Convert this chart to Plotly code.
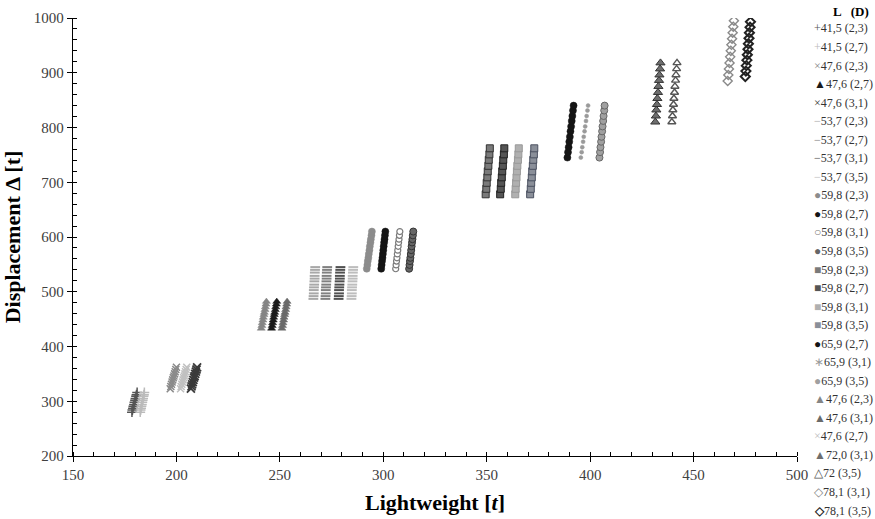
import plotly.graph_objects as go

# Displacement values [t] per hull-length group
disp_415 = [280, 284, 287, 291, 294, 298, 302, 305, 309, 312, 316]
disp_476x = [323, 327, 331, 335, 339, 343, 346, 350, 354, 358, 362]
disp_476t = [433, 438, 443, 448, 453, 458, 462, 467, 472, 477, 482]
disp_537 = [487, 492, 497, 503, 508, 513, 519, 524, 529, 535, 540, 545]
disp_598c = [542, 549, 556, 562, 569, 576, 583, 590, 596, 603, 610]
disp_598s = [678, 688, 699, 709, 720, 730, 741, 751, 762]
disp_659 = [745, 755, 764, 774, 783, 793, 802, 812, 821, 831, 840]
disp_720 = [810, 821, 832, 842, 853, 864, 875, 886, 896, 907, 918]
disp_781_31 = [885, 896, 907, 918, 929, 940, 951, 962, 973, 984, 995]
disp_781_35 = [893, 903, 913, 923, 933, 943, 953, 963, 973, 983, 993]

# Lightweight values [t] per series
lw_415_23 = [178.5, 178.7, 179.0, 179.2, 179.5, 179.7, 180.0, 180.2, 180.5, 180.7, 181.0]
lw_415_27 = [182.5, 182.7, 182.9, 183.1, 183.3, 183.5, 183.7, 183.9, 184.1, 184.3, 184.5]
lw_476x_23 = [197.0, 197.3, 197.6, 197.9, 198.2, 198.5, 198.8, 199.1, 199.4, 199.7, 200.0]
lw_476x_27 = [202.0, 202.3, 202.6, 202.9, 203.2, 203.5, 203.8, 204.1, 204.4, 204.7, 205.0]
lw_476x_31 = [207.0, 207.3, 207.6, 207.9, 208.2, 208.5, 208.8, 209.1, 209.4, 209.7, 210.0]
lw_476t_23 = [241.0, 241.3, 241.5, 241.8, 242.0, 242.3, 242.5, 242.8, 243.0, 243.3, 243.5]
lw_476t_27 = [246.0, 246.3, 246.5, 246.8, 247.0, 247.3, 247.5, 247.8, 248.0, 248.3, 248.5]
lw_476t_31 = [251.0, 251.3, 251.5, 251.8, 252.0, 252.3, 252.5, 252.8, 253.0, 253.3, 253.5]
lw_537_23 = [266.2, 266.3, 266.4, 266.4, 266.5, 266.6, 266.7, 266.8, 266.8, 266.9, 267.0, 267.1]
lw_537_27 = [272.0, 272.1, 272.2, 272.2, 272.3, 272.4, 272.5, 272.6, 272.6, 272.7, 272.8, 272.9]
lw_537_31 = [278.4, 278.5, 278.6, 278.6, 278.7, 278.8, 278.9, 279.0, 279.0, 279.1, 279.2, 279.3]
lw_537_35 = [284.6, 284.7, 284.8, 284.8, 284.9, 285.0, 285.1, 285.2, 285.2, 285.3, 285.4, 285.5]
lw_598c_23 = [292.0, 292.3, 292.5, 292.8, 293.0, 293.3, 293.5, 293.8, 294.0, 294.3, 294.5]
lw_598c_27 = [299.0, 299.2, 299.4, 299.6, 299.8, 300.0, 300.2, 300.4, 300.6, 300.8, 301.0]
lw_598c_31 = [306.0, 306.2, 306.4, 306.6, 306.8, 307.0, 307.2, 307.4, 307.6, 307.8, 308.0]
lw_598c_35 = [312.5, 312.7, 312.9, 313.1, 313.3, 313.5, 313.7, 313.9, 314.1, 314.3, 314.5]
lw_598s_23 = [349.5, 349.8, 350.0, 350.3, 350.5, 350.8, 351.0, 351.3, 351.5]
lw_598s_27 = [356.5, 356.8, 357.0, 357.3, 357.5, 357.8, 358.0, 358.3, 358.5]
lw_598s_31 = [363.8, 364.0, 364.2, 364.4, 364.6, 364.8, 365.1, 365.3, 365.5]
lw_598s_35 = [371.0, 371.3, 371.5, 371.8, 372.0, 372.3, 372.5, 372.8, 373.0]
lw_659_27 = [389.0, 389.3, 389.6, 389.9, 390.2, 390.5, 390.8, 391.1, 391.4, 391.7, 392.0]
lw_659_31 = [395.5, 395.9, 396.2, 396.6, 396.9, 397.3, 397.6, 398.0, 398.3, 398.7, 399.0]
lw_659_35 = [404.5, 404.8, 405.0, 405.3, 405.5, 405.8, 406.0, 406.3, 406.5, 406.8, 407.0]
lw_720_31 = [431.5, 431.8, 432.0, 432.3, 432.5, 432.8, 433.0, 433.3, 433.5, 433.8, 434.0]
lw_720_35 = [439.5, 439.8, 440.0, 440.3, 440.5, 440.8, 441.0, 441.3, 441.5, 441.8, 442.0]
lw_781_31 = [466.5, 466.8, 467.1, 467.4, 467.7, 468.0, 468.3, 468.6, 468.9, 469.2, 469.5]
lw_781_35 = [475.0, 475.3, 475.5, 475.8, 476.0, 476.3, 476.5, 476.8, 477.0, 477.3, 477.5]

# Series: (label L (D), lightweight, displacement, symbol, size, fill, outline, outline width, key glyph)
series = [
    ("41,5 (2,3)", lw_415_23, disp_415, "cross-thin", 7, "#555555", "#555555", 1.5, "+"),
    ("41,5 (2,7)", lw_415_27, disp_415, "cross-thin", 7, "#bbbbbb", "#bbbbbb", 1.5, "+"),
    ("47,6 (2,3)", lw_476x_23, disp_476x, "x-thin", 7, "#8a8a8a", "#8a8a8a", 1.5, "×"),
    ("47,6 (2,7)", lw_476t_27, disp_476t, "triangle-up", 7, "#1a1a1a", "#1a1a1a", 0.5, "▲"),
    ("47,6 (3,1)", lw_476x_31, disp_476x, "x-thin", 8, "#3a3a3a", "#3a3a3a", 1.8, "×"),
    ("53,7 (2,3)", lw_537_23, disp_537, "line-ew", 7, "#a8a8a8", "#a8a8a8", 2, "−"),
    ("53,7 (2,7)", lw_537_27, disp_537, "line-ew", 7, "#808080", "#808080", 2, "−"),
    ("53,7 (3,1)", lw_537_31, disp_537, "line-ew", 7, "#505050", "#505050", 2, "−"),
    ("53,7 (3,5)", lw_537_35, disp_537, "line-ew", 7, "#bdbdbd", "#bdbdbd", 2, "−"),
    ("59,8 (2,3)", lw_598c_23, disp_598c, "circle", 7, "#8c8c8c", "#8c8c8c", 0.5, "●"),
    ("59,8 (2,7)", lw_598c_27, disp_598c, "circle", 7, "#151515", "#151515", 0.5, "●"),
    ("59,8 (3,1)", lw_598c_31, disp_598c, "circle", 6, "#ffffff", "#7a7a7a", 1.2, "○"),
    ("59,8 (3,5)", lw_598c_35, disp_598c, "circle", 7, "#666666", "#333333", 1.0, "●"),
    ("59,8 (2,3)", lw_598s_23, disp_598s, "square", 7, "#7a7a7a", "#333333", 1.0, "■"),
    ("59,8 (2,7)", lw_598s_27, disp_598s, "square", 7, "#555555", "#222222", 1.0, "■"),
    ("59,8 (3,1)", lw_598s_31, disp_598s, "square", 7, "#b0b0b0", "#999999", 1.0, "■"),
    ("59,8 (3,5)", lw_598s_35, disp_598s, "square", 7, "#8a8f99", "#4a5060", 1.0, "■"),
    ("65,9 (2,7)", lw_659_27, disp_659, "circle", 7, "#151515", "#151515", 0.5, "●"),
    ("65,9 (3,1)", lw_659_31, disp_659, "circle", 4, "#9a9a9a", "#9a9a9a", 0.5, "∗"),
    ("65,9 (3,5)", lw_659_35, disp_659, "circle", 7, "#a0a0a0", "#666666", 1.0, "●"),
    ("47,6 (2,3)", lw_476t_23, disp_476t, "triangle-up", 7, "#858585", "#858585", 0.5, "▲"),
    ("47,6 (3,1)", lw_476t_31, disp_476t, "triangle-up", 7, "#6a6a6a", "#6a6a6a", 0.5, "▲"),
    ("47,6 (2,7)", lw_476x_27, disp_476x, "x-thin", 7, "#c0c0c0", "#c0c0c0", 1.5, "×"),
    ("72,0 (3,1)", lw_720_31, disp_720, "triangle-up", 8, "#6e6e6e", "#333333", 1.0, "▲"),
    ("72 (3,5)", lw_720_35, disp_720, "triangle-up-open", 7, "#555555", "#555555", 1.4, "△"),
    ("78,1 (3,1)", lw_781_31, disp_781_31, "diamond-open", 7, "#8a8a8a", "#8a8a8a", 1.4, "◇"),
    ("78,1 (3,5)", lw_781_35, disp_781_35, "diamond-open", 7, "#222222", "#222222", 2.0, "◇"),
]

serif = "Liberation Serif, Times New Roman, serif"

fig = go.Figure()
for name, xs, ys, sym, size, fill, outline, lw, glyph in series:
    fig.add_trace(go.Scatter(
        x=xs, y=ys, mode="markers", name=name, showlegend=False,
        marker=dict(symbol=sym, size=size, color=fill,
                    line=dict(color=outline, width=lw)),
    ))

# Key on the right: one row of text per series, glyph coloured like the marker
plot_top_px, plot_bottom_px = 18, 456
plot_left_px, plot_right_px = 73, 797
row0_px, row_step_px = 28.5, 18.54
key_left = (812 - plot_left_px) / (plot_right_px - plot_left_px)


def paper_y(px):
    return (plot_bottom_px - px) / (plot_bottom_px - plot_top_px)


annotations = [dict(
    text="<b>L   (D)</b>", xref="paper", yref="paper",
    x=(871 - plot_left_px) / (plot_right_px - plot_left_px), y=paper_y(12),
    xanchor="right", yanchor="middle", showarrow=False,
    font=dict(family=serif, size=13, color="#000000"),
)]
for i, (name, xs, ys, sym, size, fill, outline, lw, glyph) in enumerate(series):
    gcol = outline if sym.endswith("open") or fill == "#ffffff" else fill
    gtxt = f"<b>{glyph}</b>" if lw >= 2 and sym.startswith("diamond") else glyph
    annotations.append(dict(
        text=f'<span style="color:{gcol}">{gtxt}</span>{name}',
        xref="paper", yref="paper", x=key_left, y=paper_y(row0_px + i * row_step_px),
        xanchor="left", yanchor="middle", showarrow=False,
        font=dict(family=serif, size=12, color="#333333"),
    ))

axis_common = dict(
    showline=True, linecolor="#000000", linewidth=1.3, mirror=False,
    showgrid=False, zeroline=False,
    ticks="outside", ticklen=5, tickcolor="#000000", tickwidth=1.3,
    tickfont=dict(family=serif, size=15, color="#404040"),
)

fig.update_xaxes(
    range=[150, 500], dtick=50, tick0=150,
    minor=dict(dtick=10, ticks="inside", ticklen=4, tickcolor="#000000", tickwidth=1.2),
    title=dict(text="<b>Lightweight [<i>t</i>]</b>", font=dict(family=serif, size=22, color="#000000"), standoff=12),
    **axis_common,
)
fig.update_yaxes(
    range=[200, 1000], dtick=100, tick0=200,
    minor=dict(dtick=20, ticks="inside", ticklen=4, tickcolor="#000000", tickwidth=1.2),
    title=dict(text="<b>Displacement Δ [t]</b>", font=dict(family=serif, size=22, color="#000000"), standoff=10),
    **axis_common,
)

fig.update_layout(
    width=875, height=519,
    margin=dict(l=plot_left_px, r=875 - plot_right_px, t=plot_top_px, b=519 - plot_bottom_px, autoexpand=False),
    paper_bgcolor="#ffffff", plot_bgcolor="#ffffff",
    showlegend=False,
    annotations=annotations,
)

fig.write_html("out.html")
